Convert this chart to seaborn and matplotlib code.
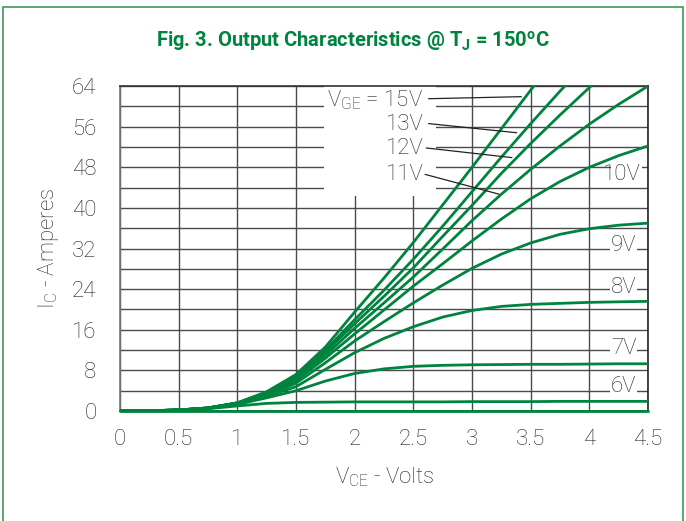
import numpy as np
import pandas as pd
import matplotlib
matplotlib.use('Agg')
import matplotlib.pyplot as plt
from matplotlib.patches import Rectangle
import seaborn as sns

# V_CE grid (Volts)
vce = [0, 0.25, 0.5, 0.75, 1.0, 1.25, 1.5, 1.75, 2.0, 2.25, 2.5, 2.75,
       3.0, 3.25, 3.5, 3.75, 4.0, 4.25, 4.5]

# I_C (Amperes) per gate voltage
ic_15v = [0, 0.05, 0.2, 0.6, 1.6, 3.8, 7.2, 12.6, 19.5, 26.2, 33.2, 40.6,
          48.0, 55.6, 63.2, 70.5, np.nan, np.nan, np.nan]
ic_13v = [0, 0.05, 0.2, 0.6, 1.6, 3.7, 7.0, 12.0, 18.0, 23.8, 29.9, 36.4,
          43.2, 50.0, 56.6, 63.0, 69.0, np.nan, np.nan]
ic_12v = [0, 0.05, 0.2, 0.6, 1.6, 3.6, 6.8, 11.6, 17.2, 22.6, 28.2, 34.4,
          40.5, 46.8, 52.7, 58.3, 63.7, 69.0, np.nan]
ic_11v = [0, 0.05, 0.2, 0.6, 1.6, 3.5, 6.5, 11.0, 16.3, 21.3, 26.4, 31.9,
          37.5, 42.7, 47.6, 52.2, 56.5, 60.4, 64.0]
ic_10v = [0, 0.05, 0.2, 0.6, 1.5, 3.3, 6.0, 10.4, 15.2, 19.9, 24.6, 29.0,
          33.5, 37.8, 41.8, 45.2, 48.0, 50.3, 52.2]
ic_9v = [0, 0.05, 0.2, 0.6, 1.5, 3.1, 5.5, 9.5, 13.8, 17.6, 21.3, 24.8,
         28.1, 30.9, 33.1, 34.8, 35.9, 36.6, 37.0]
ic_8v = [0, 0.05, 0.2, 0.55, 1.4, 2.9, 4.8, 8.2, 11.5, 14.3, 16.6, 18.5,
         19.8, 20.6, 21.0, 21.2, 21.4, 21.5, 21.6]
ic_7v = [0, 0.05, 0.2, 0.5, 1.3, 2.6, 4.0, 5.9, 7.4, 8.3, 8.8, 9.0,
         9.1, 9.15, 9.2, 9.2, 9.25, 9.3, 9.3]
ic_6v = [0, 0.05, 0.2, 0.45, 1.0, 1.5, 1.7, 1.75, 1.8, 1.8, 1.8, 1.8,
         1.85, 1.85, 1.85, 1.9, 1.9, 1.9, 1.9]
ic_5v = [0, 0, 0, 0, 0, 0, 0, 0, 0, 0, 0, 0,
         0, 0, 0, 0, 0, 0, 0]

curves = {'15V': ic_15v, '13V': ic_13v, '12V': ic_12v, '11V': ic_11v,
          '10V': ic_10v, '9V': ic_9v, '8V': ic_8v, '7V': ic_7v,
          '6V': ic_6v, '5V': ic_5v}

x_ticks = [0, 0.5, 1, 1.5, 2, 2.5, 3, 3.5, 4, 4.5]
x_tick_labels = ['0', '0.5', '1', '1.5', '2', '2.5', '3', '3.5', '4', '4.5']
y_ticks = [0, 8, 16, 24, 32, 40, 48, 56, 64]

green = '#00833e'
grid_col = '#4a4a4a'
text_col = '#222222'

df = pd.concat([pd.DataFrame({'vce': vce, 'ic': v, 'vge': k})
                for k, v in curves.items()], ignore_index=True).dropna()

sns.set_theme(style='white')
plt.rcParams['font.family'] = ['Roboto', 'DejaVu Sans']
plt.rcParams['mathtext.default'] = 'regular'

fig = plt.figure(figsize=(6.86, 5.21), dpi=100)
ax = fig.add_axes([0.175, 0.2111, 0.7697, 0.6238])

sns.lineplot(data=df, x='vce', y='ic', hue='vge', palette=[green] * len(curves),
             legend=False, linewidth=2.0, ax=ax, zorder=3)
for ln in ax.lines:
    ln.set_solid_joinstyle('round')
    if np.nanmax(ln.get_ydata()) < 0.1:
        ln.set_clip_on(False)

ax.set_xlim(0, 4.5)
ax.set_ylim(0, 64)
ax.set_xticks(x_ticks)
ax.set_xticklabels(x_tick_labels)
ax.set_yticks(y_ticks)
ax.set_yticks(np.arange(0, 65, 4), minor=True)
ax.grid(True, which='both', color=grid_col, linewidth=1.0)
ax.set_axisbelow(True)
ax.tick_params(axis='both', which='both', length=0, labelsize=16,
               labelcolor=text_col)
ax.tick_params(axis='y', pad=17)
ax.tick_params(axis='x', pad=13)
for lab in ax.get_xticklabels() + ax.get_yticklabels():
    lab.set_fontweight('light')

ax.spines['left'].set_color('#777777')
ax.spines['top'].set_color('#333333')
ax.spines['right'].set_color('#222222')
ax.spines['bottom'].set_color(green)
for s in ax.spines.values():
    s.set_linewidth(1.2)

ax.set_xlabel(r'V$_{CE}$ - Volts', fontsize=16, color=text_col,
              fontweight='light', labelpad=11)
ax.set_ylabel(r'I$_C$ - Amperes', fontsize=16, color=text_col,
              fontweight='light', labelpad=8)

# white boxes that hide the grid behind the labels
ax.add_patch(Rectangle((1.74, 42.3), 0.95, 22, facecolor='white',
                       edgecolor='none', zorder=1))
ax.add_patch(Rectangle((4.18, 44.6), 0.27, 4.6, facecolor='white',
                       edgecolor='none', zorder=1))

# V_GE labels with leader lines
left_labels = [(r'V$_{GE}$ = 15V', 61.2, (2.63, 61.5), (3.42, 61.9)),
               ('13V', 56.4, (2.63, 56.6), (3.38, 54.8)),
               ('12V', 51.7, (2.61, 51.8), (3.34, 49.9)),
               ('11V', 46.6, (2.60, 46.6), (3.23, 42.7))]
for txt, yy, p0, p1 in left_labels:
    ax.text(2.585, yy, txt, ha='right', va='center', fontsize=16,
            color=text_col, fontweight='light', zorder=4)
    ax.plot([p0[0], p1[0]], [p0[1], p1[1]], color='#222222', lw=0.9, zorder=4)

right_labels = [('10V', 46.5), ('9V', 32.6), ('8V', 24.4), ('7V', 12.4), ('6V', 4.8)]
for txt, yy in right_labels:
    t = ax.text(4.40 if txt != '10V' else 4.44, yy, txt, ha='right', va='center',
                fontsize=16, color=text_col, fontweight='light', zorder=4)
    if txt != '10V':
        t.set_bbox(dict(facecolor='white', edgecolor='none', pad=0.5))

fig.text(0.515, 0.922, r'Fig. 3. Output Characteristics @ T$_J$ = 150$^o$C',
         ha='center', va='center', fontsize=14.5, fontweight='bold',
         color=green)

fig.patches.append(Rectangle((0.0044, -0.02), 0.991, 1.0066, transform=fig.transFigure,
                             facecolor='none', edgecolor='#3a9a58', linewidth=1.2))

fig.savefig('out.png', dpi=100)
